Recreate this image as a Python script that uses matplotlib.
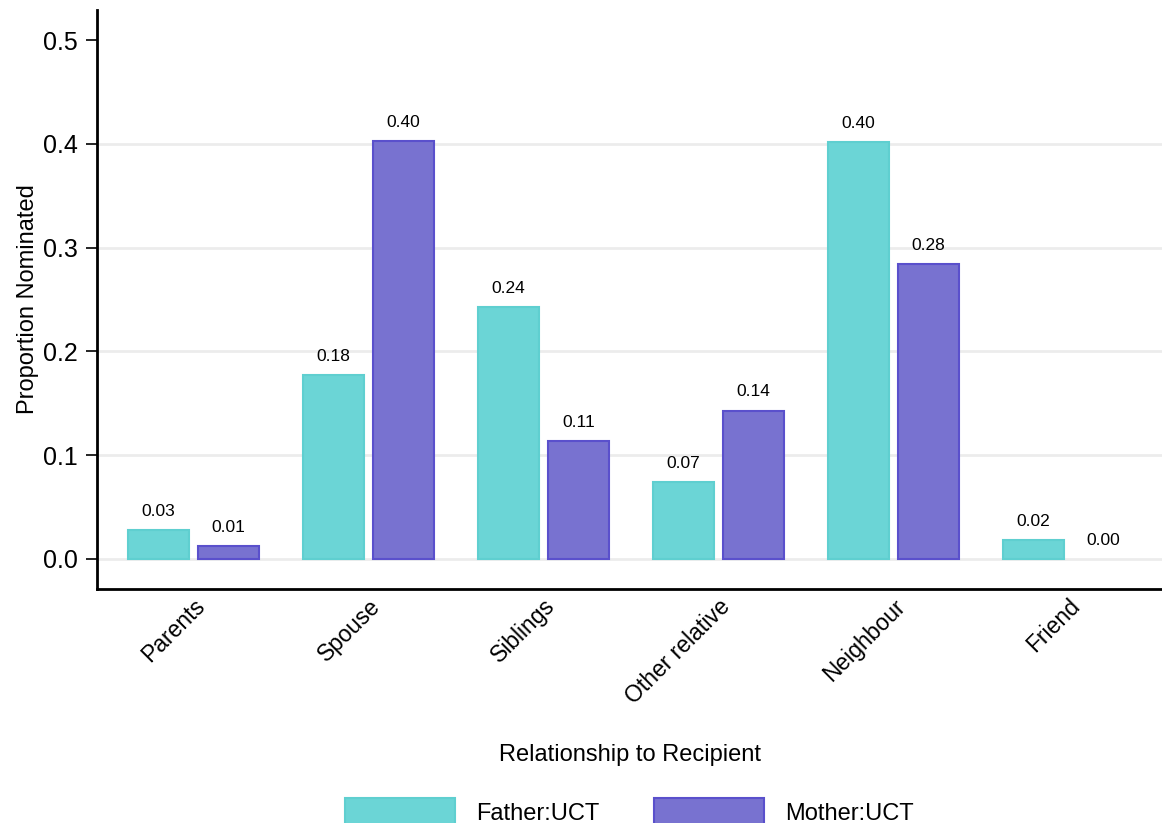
import numpy as np
import matplotlib
matplotlib.use("Agg")
import matplotlib.pyplot as plt

CATEGORIES = ["Parents", "Spouse", "Siblings", "Other relative", "Neighbour", "Friend"]
FATHER = [0.028, 0.177, 0.243, 0.074, 0.402, 0.018]
MOTHER = [0.012, 0.403, 0.114, 0.143, 0.284, 0.0]
SERIES_NAMES = ["Father:UCT", "Mother:UCT"]

plt.rcParams["font.family"] = ["Liberation Sans", "DejaVu Sans"]

fig = plt.figure(figsize=(11.62, 8.23), dpi=100)
ax = fig.add_axes([0.0835, 0.2843, 0.9165, 0.7035])

x = np.arange(len(CATEGORIES))
width = 0.35
gap = 0.05
styles = [
    ("#6bd5d6", "#5fcfd0"),
    ("#7872d0", "#5a50cc"),
]
for k, (vals, name) in enumerate(zip([FATHER, MOTHER], SERIES_NAMES)):
    fc, ec = styles[k]
    pos = x + (k - 0.5) * (width + gap)
    lw = [1.5 if v > 0 else 0 for v in vals]
    ax.bar(pos, vals, width, color=fc, edgecolor=ec, linewidth=lw, label=name, zorder=3)
    for p, v in zip(pos, vals):
        ax.annotate(f"{v:.2f}", (p, v), xytext=(0, 8), textcoords="offset points",
                    ha="center", va="bottom", fontsize=12.5, zorder=4)

ax.set_ylim(-0.029, 0.529)
ax.set_xlim(-0.551, 5.534)
ax.set_yticks([0.0, 0.1, 0.2, 0.3, 0.4, 0.5])
ax.set_yticklabels(["0.0", "0.1", "0.2", "0.3", "0.4", "0.5"], fontsize=18)
for yv in [0.0, 0.1, 0.2, 0.3, 0.4]:
    ax.axhline(yv, color="#ececec", linewidth=2, zorder=1)

ax.set_xticks(x)
ax.set_xticklabels(CATEGORIES, rotation=45, ha="right", rotation_mode="anchor", fontsize=16.5)
ax.tick_params(axis="x", length=0, pad=4)
ax.tick_params(axis="y", length=8, width=1.2, pad=6)

for s in ["top", "right"]:
    ax.spines[s].set_visible(False)
ax.spines["left"].set_linewidth(2)
ax.spines["bottom"].set_linewidth(2)

ax.set_ylabel("Proportion Nominated", fontsize=17, labelpad=3)
ax.set_xlabel("Relationship to Recipient", fontsize=17, labelpad=26)

ax.legend(loc="upper center", bbox_to_anchor=(0.5, -0.324), ncol=2, frameon=False,
          fontsize=17, handlelength=4.65, handleheight=1.5, columnspacing=2.3,
          handletextpad=0.9)

fig.savefig("out.png", dpi=100)
